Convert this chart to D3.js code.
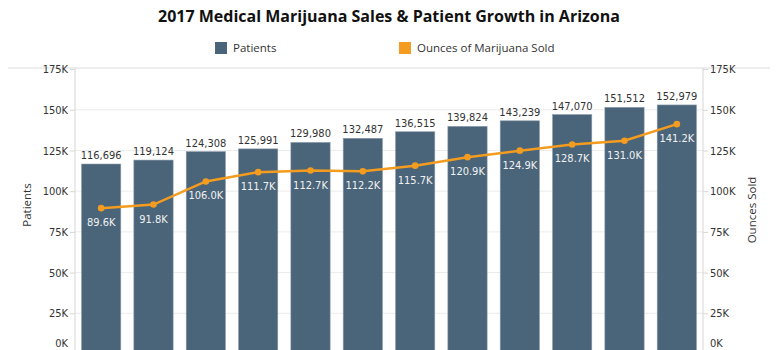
<!DOCTYPE html>
<html>
<head>
<meta charset="utf-8">
<script src="https://cdn.jsdelivr.net/npm/d3@7"></script>
<style>
  body { margin: 0; background: #fff; }
  svg { display: block; }
  .tick text { font-family: "DejaVu Sans Condensed", "DejaVu Sans", sans-serif; font-size: 11px; fill: #333; }
</style>
</head>
<body>
<svg id="chart" width="778" height="350"></svg>
<script>
// data
const months = ["Jan", "Feb", "Mar", "Apr", "May", "Jun", "Jul", "Aug", "Sep", "Oct", "Nov", "Dec"];
const patients = [116696, 119124, 124308, 125991, 129980, 132487, 136515, 139824, 143239, 147070, 151512, 152979];
const ounces = [89600, 91800, 106000, 111700, 112700, 112200, 115700, 120900, 124900, 128700, 131000, 141200];
const tickValues = [0, 25000, 50000, 75000, 100000, 125000, 150000, 175000];

const barColor = "#4a6479";
const lineColor = "#f39c1f";

const svg = d3.select("#chart");
const margin = {left: 75, right: 75, top: 68};
const width = 778, height = 350;
const plotBottom = 354; // zero sits just below the visible edge

const x = d3.scaleBand()
    .domain(months)
    .range([margin.left, width - margin.right])
    .paddingInner(0.25)
    .paddingOuter(0.125);

const y = d3.scaleLinear()
    .domain([0, 175000])
    .range([plotBottom, plotBottom - 7 * 40.7]);

const fmtK = d => d3.format(".0f")(d / 1000) + "K";

/* Title */
svg.append("text")
    .attr("x", 389)
    .attr("y", 22)
    .attr("text-anchor", "middle")
    .style("font-family", "'Open Sans', sans-serif")
    .style("font-weight", "bold")
    .style("font-size", "16px")
    .style("fill", "#111")
    .text("2017 Medical Marijuana Sales & Patient Growth in Arizona");

/* Legend */
let legend = [
    {label: "Patients", color: barColor, x: 215},
    {label: "Ounces of Marijuana Sold", color: lineColor, x: 399}
];
let lg = svg.selectAll(".legend")
    .data(legend)
    .enter().append("g")
    .attr("class", "legend");
lg.append("rect")
    .attr("x", d => d.x)
    .attr("y", 42)
    .attr("width", 12)
    .attr("height", 12)
    .attr("fill", d => d.color);
lg.append("text")
    .attr("x", d => d.x + 18)
    .attr("y", 52)
    .style("font-family", "'Open Sans', sans-serif")
    .style("font-size", "11.5px")
    .style("fill", "#333")
    .text(d => d.label);

/* Top separator */
svg.append("line")
    .attr("x1", 8).attr("x2", 770)
    .attr("y1", margin.top).attr("y2", margin.top)
    .attr("stroke", "#dcdcdc");

/* Gridlines */
svg.append("g")
    .selectAll("line")
    .data(tickValues.filter(d => d > 0 && d < 175000))
    .enter().append("line")
    .attr("x1", margin.left).attr("x2", width - margin.right)
    .attr("y1", d => y(d)).attr("y2", d => y(d))
    .attr("stroke", "#ececec");

/* Axes */
let leftAxis = svg.append("g")
    .attr("transform", `translate(${margin.left},0)`)
    .call(d3.axisLeft(y).tickValues(tickValues).tickFormat(fmtK).tickSizeOuter(0).tickSize(5).tickPadding(2));
let rightAxis = svg.append("g")
    .attr("transform", `translate(${width - margin.right},0)`)
    .call(d3.axisRight(y).tickValues(tickValues).tickFormat(fmtK).tickSizeOuter(0).tickSize(5).tickPadding(2));

[leftAxis, rightAxis].forEach(ax => {
    ax.select(".domain").remove();
    ax.selectAll(".tick line").attr("stroke", "#d6d6d6");
    // 0K label is pushed up to stay in view
    ax.selectAll(".tick").filter(d => d === 0).select("text").attr("dy", "-0.65em");
});

svg.append("line")
    .attr("x1", margin.left).attr("x2", margin.left)
    .attr("y1", margin.top).attr("y2", height)
    .attr("stroke", "#d6d6d6");
svg.append("line")
    .attr("x1", width - margin.right).attr("x2", width - margin.right)
    .attr("y1", margin.top).attr("y2", height)
    .attr("stroke", "#d6d6d6");

/* Axis titles */
svg.append("text")
    .attr("transform", "translate(31,205) rotate(-90)")
    .attr("text-anchor", "middle")
    .style("font-family", "'Open Sans', sans-serif")
    .style("font-size", "11.5px")
    .style("fill", "#333")
    .text("Patients");
svg.append("text")
    .attr("transform", "translate(756,210) rotate(-90)")
    .attr("text-anchor", "middle")
    .style("font-family", "'Open Sans', sans-serif")
    .style("font-size", "11.5px")
    .style("fill", "#333")
    .text("Ounces Sold");

/* Bars */
svg.append("g")
    .selectAll("rect")
    .data(patients)
    .enter().append("rect")
    .attr("x", (d, i) => x(months[i]))
    .attr("y", d => y(d))
    .attr("width", x.bandwidth())
    .attr("height", d => plotBottom - y(d))
    .attr("fill", barColor)
    .attr("stroke", "#8a9cab")
    .attr("stroke-width", 0.6);

svg.append("g")
    .selectAll("text")
    .data(patients)
    .enter().append("text")
    .attr("x", (d, i) => x(months[i]) + x.bandwidth() / 2)
    .attr("y", d => y(d) - 5)
    .attr("text-anchor", "middle")
    .style("font-family", "'DejaVu Sans Condensed', 'DejaVu Sans', sans-serif")
    .style("font-size", "11px")
    .style("fill", "#333")
    .text(d => d3.format(",")(d));

/* Line */
let cx = (d, i) => x(months[i]) + x.bandwidth() / 2;
svg.append("path")
    .datum(ounces)
    .attr("fill", "none")
    .attr("stroke", lineColor)
    .attr("stroke-width", 2.5)
    .attr("d", d3.line().x(cx).y(d => y(d)));

svg.append("g")
    .selectAll("circle")
    .data(ounces)
    .enter().append("circle")
    .attr("cx", cx)
    .attr("cy", d => y(d))
    .attr("r", 3.3)
    .attr("fill", lineColor);

svg.append("g")
    .selectAll("text")
    .data(ounces)
    .enter().append("text")
    .attr("x", cx)
    .attr("y", d => y(d) + 18)
    .attr("text-anchor", "middle")
    .style("font-family", "'DejaVu Sans Condensed', 'DejaVu Sans', sans-serif")
    .style("font-size", "11px")
    .style("fill", "#f2f2f2")
    .text(d => d3.format(".1f")(d / 1000) + "K");
</script>
</body>
</html>
